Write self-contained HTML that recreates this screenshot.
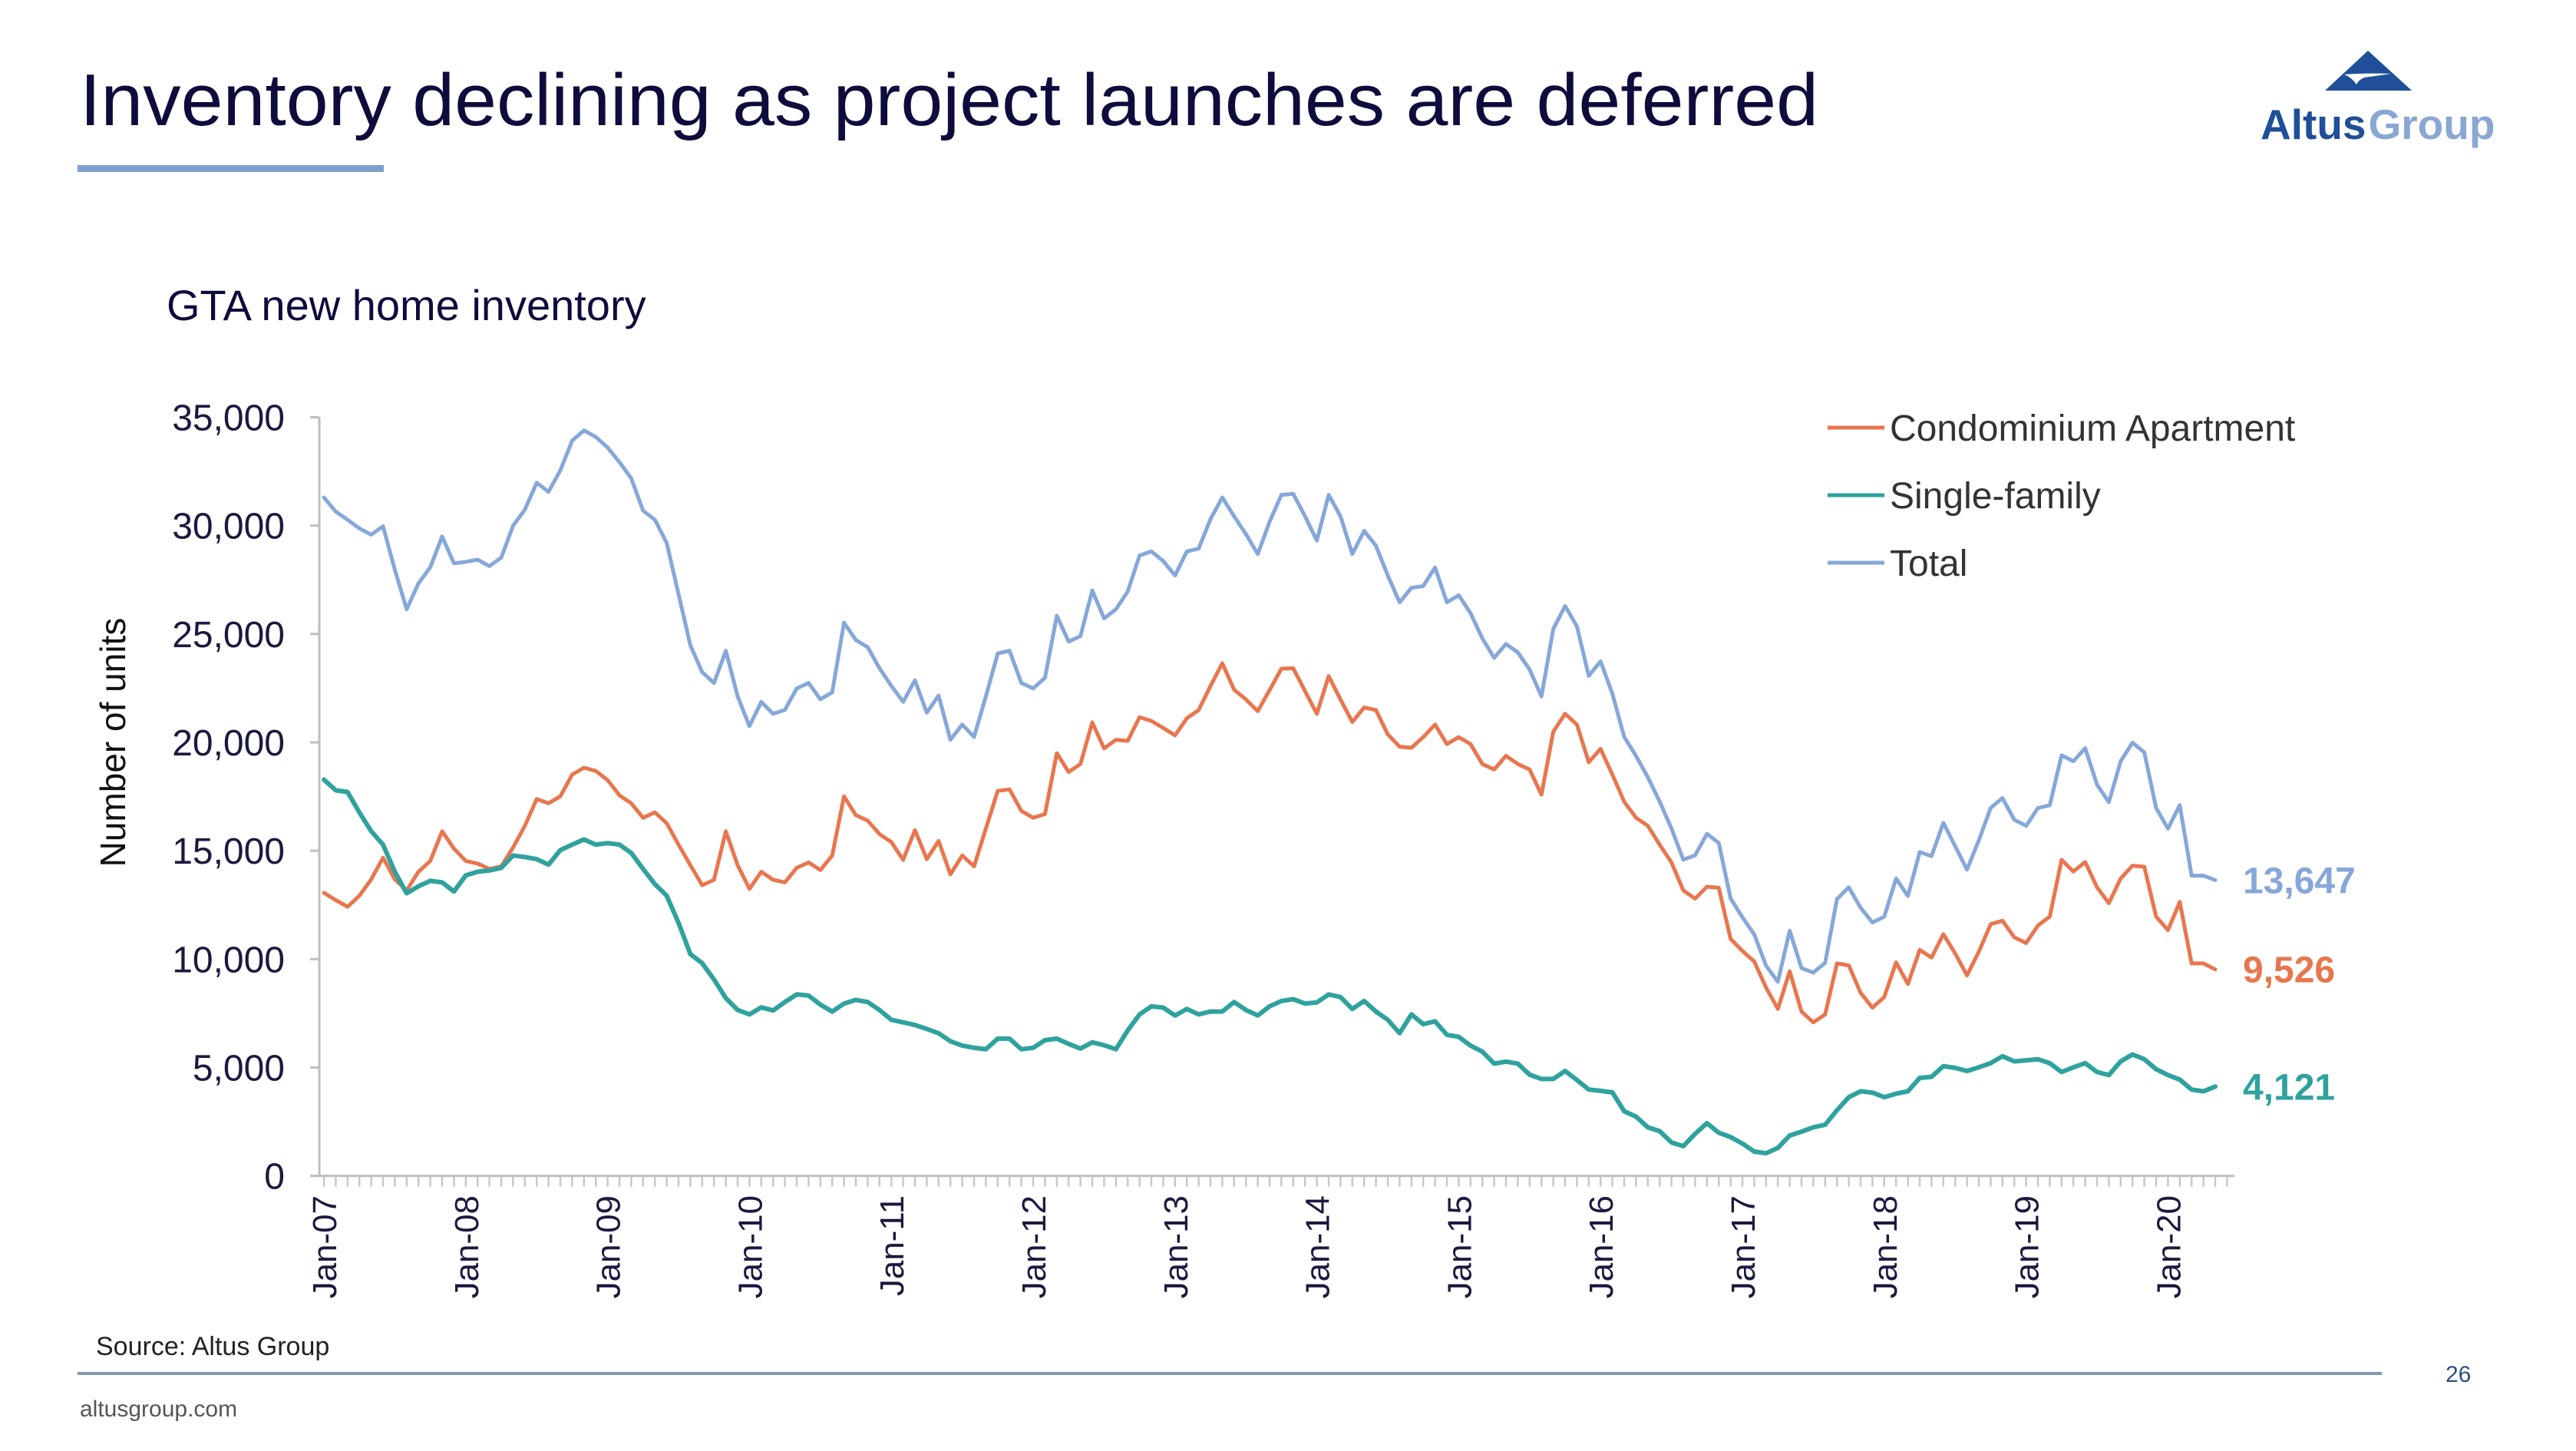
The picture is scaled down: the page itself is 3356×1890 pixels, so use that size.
<!DOCTYPE html>
<html><head><meta charset="utf-8"><style>
html,body{margin:0;padding:0;background:#fff;}
svg{display:block;font-family:"Liberation Sans",Arial,sans-serif;}
</style></head><body>
<svg id="chart" width="3356" height="1890" viewBox="0 0 3356 1890" xmlns="http://www.w3.org/2000/svg">
<rect x="0" y="0" width="3356" height="1890" fill="#ffffff"/>
<text x="104" y="163" font-size="96" fill="#0d0c3c" textLength="2265" lengthAdjust="spacingAndGlyphs">Inventory declining as project launches are deferred</text>
<rect x="101" y="215" width="399" height="9" fill="#7f9fcf"/>
<g>
<polygon points="3085,66 3029,118 3142,118" fill="#1f4f98"/>
<path d="M3054,97 Q3080,95 3115,96 Q3095,99 3080,101 Q3073,104 3070,110 Q3064,101 3054,97 Z" fill="#ffffff"/>
<text x="2945" y="181" font-size="55" font-weight="bold"><tspan fill="#1f4f98">Altus</tspan><tspan fill="#8aa6d3" dx="3">Group</tspan></text>
</g>
<text x="217" y="417" font-size="56" fill="#0d0c3c">GTA new home inventory</text>
<text transform="translate(163,967) rotate(-90)" text-anchor="middle" font-size="46" fill="#111">Number of units</text>
<g id="axes"></g>
<g id="series"></g>
<g>
<g><line x1="2381" y1="557" x2="2455" y2="557" stroke="#e8764e" stroke-width="5"/><text x="2462" y="574" font-size="48" fill="#333">Condominium Apartment</text></g>
<g><line x1="2381" y1="645" x2="2455" y2="645" stroke="#2fa29e" stroke-width="5"/><text x="2462" y="662" font-size="48" fill="#333">Single-family</text></g>
<g><line x1="2381" y1="733" x2="2455" y2="733" stroke="#86a7d9" stroke-width="5"/><text x="2462" y="750" font-size="48" fill="#333">Total</text></g>
</g>
<text x="125" y="1765" font-size="34" fill="#222">Source: Altus Group</text>
<rect x="101" y="1787" width="3002" height="4" fill="#8398b3"/>
<text x="104" y="1845" font-size="30" fill="#555">altusgroup.com</text>
<text x="3186" y="1800" font-size="30" fill="#2f4f7f">26</text>
</svg>
<script>
const tickValues = [0,5000,10000,15000,20000,25000,30000,35000];
const tickLabels = ["0","5,000","10,000","15,000","20,000","25,000","30,000","35,000"];
const yearLabels = ["Jan-07","Jan-08","Jan-09","Jan-10","Jan-11","Jan-12","Jan-13","Jan-14","Jan-15","Jan-16","Jan-17","Jan-18","Jan-19","Jan-20"];
const condo = [13060,12720,12420,12920,13680,14680,13680,13170,14030,14530,15900,15100,14530,14410,14160,14280,15150,16150,17390,17190,17510,18510,18830,18680,18260,17560,17190,16520,16770,16270,15280,14330,13410,13660,15900,14330,13240,14030,13660,13540,14210,14460,14110,14780,17510,16640,16390,15770,15400,14580,15950,14610,15450,13910,14780,14280,16020,17760,17830,16840,16520,16690,19500,18630,19000,20920,19720,20120,20070,21160,20990,20670,20320,21110,21490,22600,23650,22430,21980,21440,22410,23400,23420,22360,21320,23060,21980,20940,21610,21490,20370,19800,19750,20240,20820,19920,20240,19920,19000,18750,19380,19000,18750,17590,20490,21320,20820,19080,19700,18510,17260,16520,16150,15280,14460,13170,12790,13340,13290,10930,10380,9890,8690,7700,9440,7580,7080,7450,9800,9710,8440,7760,8250,9850,8850,10420,10070,11150,10260,9250,10340,11610,11770,11010,10740,11550,11960,14580,14040,14480,13310,12580,13720,14310,14260,11960,11340,12640,9800,9800,9526];
const singleFamily = [18280,17790,17710,16770,15900,15280,14030,13040,13360,13610,13540,13120,13860,14030,14090,14210,14780,14710,14610,14360,15030,15280,15520,15280,15350,15280,14900,14160,13460,12920,11670,10230,9810,9060,8200,7650,7450,7770,7630,8020,8370,8320,7900,7580,7950,8120,8020,7650,7200,7080,6960,6780,6580,6210,6010,5910,5840,6330,6330,5840,5910,6260,6330,6090,5870,6160,6030,5840,6710,7450,7820,7760,7400,7700,7450,7580,7580,8020,7650,7400,7820,8070,8150,7950,8000,8370,8250,7700,8070,7580,7200,6580,7450,7000,7130,6510,6410,6010,5730,5180,5270,5180,4670,4470,4470,4840,4420,3980,3920,3850,2980,2730,2240,2060,1540,1370,1940,2430,1990,1790,1490,1120,1040,1290,1860,2040,2240,2360,3030,3630,3900,3840,3630,3790,3900,4520,4570,5060,4980,4840,5010,5200,5520,5280,5330,5380,5200,4790,5010,5200,4790,4650,5280,5600,5380,4920,4650,4440,3980,3900,4121];
const total = [31300,30650,30270,29870,29580,29970,27960,26140,27340,28080,29500,28260,28330,28430,28130,28520,29990,30740,31980,31560,32550,33920,34390,34090,33600,32930,32180,30690,30270,29200,26840,24480,23240,22740,24230,22120,20750,21870,21320,21500,22490,22740,21990,22310,25520,24720,24390,23420,22610,21870,22860,21370,22160,20120,20820,20250,22120,24100,24230,22740,22490,22980,25840,24650,24900,27010,25720,26140,26960,28620,28810,28370,27700,28810,28940,30300,31300,30430,29610,28690,30180,31420,31470,30430,29310,31420,30430,28690,29760,29070,27700,26460,27130,27210,28070,26460,26790,25960,24800,23900,24540,24150,23360,22120,25230,26290,25350,23070,23740,22240,20250,19380,18390,17270,16030,14590,14790,15780,15360,12800,11930,11140,9700,8950,11310,9580,9380,9830,12770,13310,12370,11690,11960,13720,12910,14940,14750,16290,15210,14130,15480,16970,17430,16430,16150,16970,17100,19400,19130,19730,18050,17240,19130,19990,19540,16970,16020,17100,13850,13850,13647];
const endLabels = ["9,526","4,121","13,647"];

const NS = "http://www.w3.org/2000/svg";
const X0 = 422, DX = 15.4, Y0 = 1531.6, YSCALE = 988.1/35000, AXL = 416, AXR = 2911;
function xPos(i){ return X0 + i*DX; }
function yPos(v){ return Y0 - v*YSCALE; }
function mk(tag, attrs){ const e=document.createElementNS(NS,tag); for(const k in attrs) e.setAttribute(k,attrs[k]); return e; }

const axes = document.getElementById('axes');
const yAxis = mk('line',{x1:AXL,y1:yPos(35000),x2:AXL,y2:Y0,stroke:'#bfbfbf','stroke-width':3});


axes.appendChild(yAxis);
const xAxis = mk('line',{x1:AXL-12,y1:Y0,x2:AXR,y2:Y0,stroke:'#bfbfbf','stroke-width':3});


axes.appendChild(xAxis);
tickValues.forEach((v,k)=>{
  const t = mk('line',{x1:AXL-12,y1:yPos(v),x2:AXL,y2:yPos(v),stroke:'#bfbfbf','stroke-width':3});
  
  
  axes.appendChild(t);
  const lb = mk('text',{x:371,y:yPos(v)+17,'text-anchor':'end','font-size':48,fill:'#1a1a40'});
  lb.textContent = tickLabels[k];
  
  
  axes.appendChild(lb);
});
for(let i=0;i<=161;i++){
  const t = mk('line',{x1:xPos(i),y1:Y0,x2:xPos(i),y2:Y0+14,stroke:'#c8c8c8','stroke-width':2.5});
  
  
  axes.appendChild(t);
}
yearLabels.forEach((s,k)=>{
  const cx = xPos(k*12)+16, cy = 1557;
  const lb = mk('text',{transform:`translate(${cx},${cy}) rotate(-90)`,'text-anchor':'end','font-size':44,fill:'#1a1a40'});
  lb.textContent = s;
  
  
  axes.appendChild(lb);
});

const seriesG = document.getElementById('series');
const defs = [
  {d:total,color:'#86a7d9',w:5,name:'total-line',lbl:2},
  {d:condo,color:'#e8764e',w:5,name:'condo-line',lbl:0},
  {d:singleFamily,color:'#2fa29e',w:6,name:'single-family-line',lbl:1}
];
defs.forEach(s=>{
  const pts = s.d.map((v,i)=>xPos(i).toFixed(1)+','+yPos(v).toFixed(1)).join(' ');
  const pl = mk('polyline',{points:pts,fill:'none',stroke:s.color,'stroke-width':s.w,'stroke-linejoin':'round','stroke-linecap':'round'});
  
  
  seriesG.appendChild(pl);
  const last = s.d.length-1;
  const t = mk('text',{x:xPos(last)+36,y:yPos(s.d[last])+17,'font-size':48,'font-weight':'bold',fill:s.color});
  t.textContent = endLabels[s.lbl];
  
  
  seriesG.appendChild(t);
});
</script>
</body></html>
